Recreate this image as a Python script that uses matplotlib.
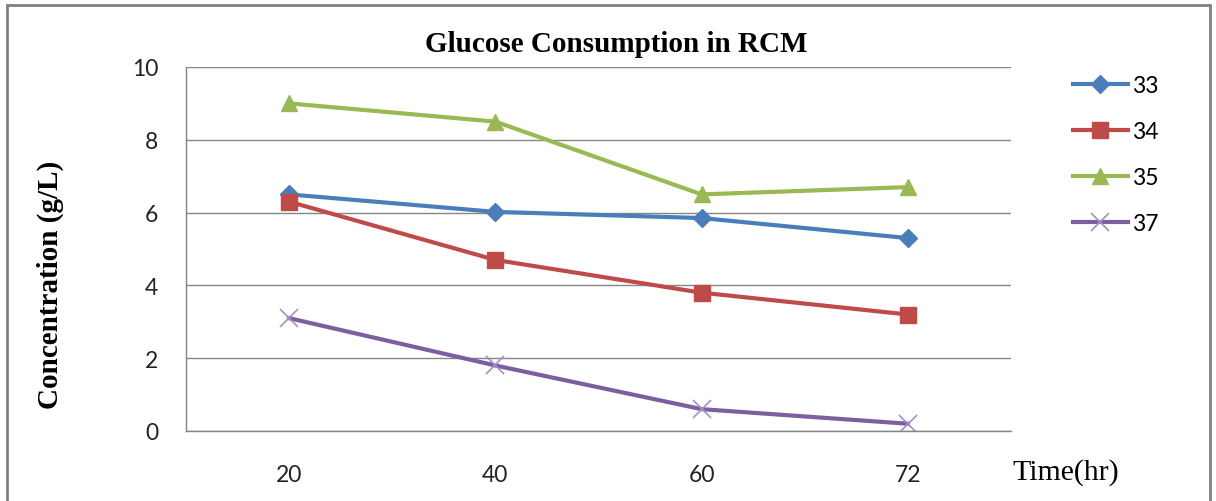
import numpy as np
import matplotlib
matplotlib.use('Agg')
from matplotlib import pyplot as plt
from matplotlib.patches import Rectangle

# sampling times (hr) and glucose left in RCM (g/L)
times = ['20', '40', '60', '72']
s33 = [6.5, 6.02, 5.85, 5.3]
s34 = [6.3, 4.7, 3.8, 3.2]
s35 = [9.0, 8.5, 6.5, 6.7]
s37 = [3.1, 1.8, 0.6, 0.2]
names = ['33', '34', '35', '37']
yticks = [0, 2, 4, 6, 8, 10]

W, H = 1216, 502
fig = plt.figure(figsize=(W/100, H/100), dpi=100)
ax = fig.add_axes([186/W, 1-432/H, (1011-186)/W, (432-68)/H])

x = np.arange(len(times))
ax.plot(x, s33, color='#4A7EBB', lw=3, marker='D', ms=9, label=names[0])
ax.plot(x, s34, color='#BE4B48', lw=3, marker='s', ms=11, label=names[1])
ax.plot(x, s35, color='#98B954', lw=3, marker='^', ms=12, label=names[2])
ax.plot(x, s37, color='#7D5FA0', lw=3, marker='x', ms=13, mew=1.2,
        mec='#A48FC4', label=names[3])

ax.set_xlim(-0.5, len(times)-0.5)
ax.set_ylim(0, 10)
ax.set_yticks(yticks)
ax.set_xticks(x)
ax.set_xticklabels(times)
ax.grid(axis='y', color='#868686', lw=1)
ax.set_axisbelow(True)
for s in ['top', 'right']:
    ax.spines[s].set_visible(False)
for s in ['left', 'bottom']:
    ax.spines[s].set_color('#868686')
    ax.spines[s].set_linewidth(1)
ax.tick_params(length=0, labelsize=16.5, labelcolor='#222222')
ax.tick_params(axis='x', pad=24)
ax.tick_params(axis='y', pad=20)
for lb in ax.get_xticklabels() + ax.get_yticklabels():
    lb.set_family('Lato')

fig.text(616/W, 1-44/H, 'Glucose Consumption in RCM', ha='center', va='center',
         family='Liberation Serif', weight='bold', fontsize=21)
fig.text(50/W, 1-285/H, 'Concentration (g/L)', ha='center', va='center',
         rotation=90, family='Liberation Serif', weight='bold', fontsize=21)
fig.text(1012/W, 1-473/H, 'Time(hr)', ha='left', va='center',
         family='Liberation Serif', fontsize=21.5)

leg = fig.legend(loc='upper left', bbox_to_anchor=(1052/W, 1-55/H), frameon=False,
                 handlelength=2.4, labelspacing=1.1, handletextpad=0.2,
                 prop={'family': 'Lato', 'size': 16.5})

fig.patches.append(Rectangle((7/W, -0.05), (1210-7)/W, 1-6/H+0.05,
                             transform=fig.transFigure, fill=False,
                             edgecolor='#808080', lw=2))

fig.savefig('out.png', dpi=100)
